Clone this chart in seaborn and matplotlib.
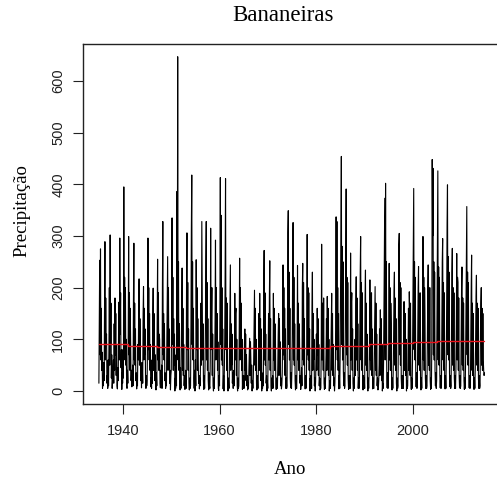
import numpy as np
import pandas as pd
import matplotlib
matplotlib.use("Agg")
import matplotlib.pyplot as plt
import seaborn as sns

# Monthly precipitation (mm), Jan..Dec, one row per year
precip_1935_1944 = [
    [15, 120, 253, 70, 275, 60, 160, 40, 75, 5, 30, 10],
    [55, 20, 160, 289, 60, 180, 90, 110, 15, 30, 5, 60],
    [10, 85, 200, 50, 302, 90, 170, 25, 70, 5, 20, 40],
    [60, 15, 130, 40, 180, 70, 150, 30, 90, 10, 4, 45],
    [20, 120, 172, 60, 296, 110, 190, 45, 80, 3, 35, 15],
    [80, 25, 395, 90, 220, 60, 200, 50, 100, 10, 5, 40],
    [15, 110, 299, 70, 190, 40, 160, 80, 20, 40, 8, 25],
    [50, 10, 180, 286, 60, 170, 50, 120, 20, 35, 4, 30],
    [10, 90, 60, 170, 217, 50, 140, 90, 20, 40, 6, 55],
    [45, 15, 150, 202, 60, 160, 70, 120, 25, 5, 30, 10],
]
precip_1945_1954 = [
    [20, 100, 296, 80, 200, 60, 150, 40, 90, 8, 25, 5],
    [60, 15, 140, 199, 40, 150, 105, 20, 70, 10, 2, 35],
    [10, 130, 255, 60, 190, 40, 110, 100, 15, 6, 40, 10],
    [50, 5, 200, 328, 70, 150, 60, 130, 20, 35, 5, 20],
    [10, 100, 180, 260, 40, 200, 60, 120, 15, 40, 2, 30],
    [40, 150, 335, 90, 220, 40, 140, 50, 110, 0, 25, 5],
    [70, 10, 386, 120, 647, 60, 250, 40, 130, 10, 2, 45],
    [5, 90, 150, 238, 40, 160, 30, 90, 10, 30, 3, 12],
    [40, 5, 200, 306, 80, 210, 40, 120, 15, 2, 25, 5],
    [10, 130, 312, 418, 90, 250, 60, 160, 25, 5, 40, 0],
]
precip_1955_1964 = [
    [60, 10, 254, 80, 200, 40, 140, 60, 15, 30, 4, 25],
    [10, 80, 170, 50, 328, 180, 60, 130, 20, 3, 30, 5],
    [50, 120, 250, 328, 60, 210, 40, 140, 20, 2, 35, 10],
    [5, 60, 315, 80, 140, 200, 30, 110, 10, 0, 25, 5],
    [45, 140, 292, 60, 200, 70, 150, 40, 95, 5, 1, 30],
    [10, 150, 413, 90, 340, 60, 200, 50, 120, 4, 30, 0],
    [40, 100, 230, 411, 80, 180, 40, 170, 20, 0, 25, 5],
    [5, 90, 180, 244, 40, 130, 50, 110, 15, 35, 5, 25],
    [40, 10, 189, 60, 150, 160, 30, 100, 10, 0, 25, 5],
    [10, 110, 257, 60, 200, 80, 170, 40, 100, 3, 30, 5],
]
precip_1965_1974 = [
    [30, 5, 90, 120, 40, 110, 20, 70, 10, 30, 2, 15],
    [5, 35, 70, 102, 30, 95, 60, 15, 50, 0, 20, 5],
    [25, 60, 130, 195, 50, 160, 40, 100, 15, 2, 30, 5],
    [5, 80, 150, 40, 189, 60, 140, 20, 120, 0, 25, 5],
    [35, 10, 200, 272, 60, 190, 50, 110, 15, 30, 0, 20],
    [5, 70, 150, 60, 180, 252, 40, 140, 10, 0, 25, 5],
    [30, 5, 189, 60, 160, 40, 130, 110, 20, 3, 25, 5],
    [5, 50, 110, 150, 30, 140, 40, 95, 10, 25, 4, 12],
    [35, 100, 244, 70, 200, 60, 160, 30, 120, 5, 25, 5],
    [10, 140, 307, 349, 90, 230, 60, 160, 25, 6, 35, 5],
]
precip_1975_1984 = [
    [40, 110, 250, 326, 60, 220, 50, 130, 20, 2, 30, 5],
    [5, 80, 243, 60, 170, 40, 130, 100, 15, 30, 3, 15],
    [45, 10, 200, 247, 60, 210, 50, 140, 25, 4, 30, 5],
    [10, 90, 303, 70, 200, 60, 190, 40, 120, 0, 25, 5],
    [30, 5, 160, 230, 40, 150, 60, 100, 10, 25, 0, 18],
    [60, 110, 40, 160, 70, 140, 30, 90, 10, 25, 2, 5],
    [5, 80, 284, 60, 170, 150, 40, 180, 15, 3, 25, 5],
    [30, 70, 140, 40, 183, 60, 160, 30, 100, 0, 20, 5],
    [5, 60, 130, 189, 40, 150, 30, 90, 10, 25, 0, 15],
    [50, 120, 337, 80, 328, 60, 200, 40, 150, 4, 30, 5],
]
precip_1985_1994 = [
    [70, 180, 315, 454, 90, 280, 60, 250, 40, 10, 35, 5],
    [10, 150, 260, 391, 70, 220, 50, 210, 25, 3, 30, 5],
    [30, 5, 267, 60, 170, 190, 40, 120, 15, 0, 25, 5],
    [40, 100, 30, 166, 221, 60, 180, 40, 130, 5, 25, 5],
    [10, 120, 230, 299, 60, 210, 40, 190, 25, 2, 30, 5],
    [25, 5, 180, 234, 50, 170, 40, 110, 15, 0, 25, 5],
    [35, 90, 215, 60, 170, 40, 190, 30, 120, 4, 25, 5],
    [5, 70, 150, 202, 40, 170, 30, 110, 10, 25, 2, 5],
    [20, 50, 120, 30, 157, 60, 140, 20, 90, 0, 15, 5],
    [55, 160, 280, 373, 60, 402, 90, 250, 30, 6, 35, 5],
]
precip_1995_2004 = [
    [10, 110, 247, 60, 200, 40, 170, 130, 20, 2, 25, 5],
    [35, 100, 190, 230, 50, 180, 40, 140, 15, 0, 25, 5],
    [10, 130, 283, 305, 70, 210, 50, 200, 25, 5, 30, 5],
    [30, 5, 140, 173, 40, 120, 150, 30, 100, 0, 20, 5],
    [10, 90, 160, 40, 192, 150, 30, 170, 20, 3, 25, 5],
    [60, 170, 299, 392, 80, 250, 60, 220, 40, 8, 35, 5],
    [10, 100, 200, 241, 50, 170, 40, 190, 20, 2, 25, 5],
    [50, 120, 299, 60, 220, 40, 200, 150, 25, 5, 30, 5],
    [10, 110, 190, 244, 50, 180, 40, 200, 20, 3, 25, 5],
    [90, 448, 300, 431, 70, 250, 60, 230, 40, 10, 35, 5],
]
precip_2005_2014 = [
    [20, 150, 270, 426, 60, 240, 50, 220, 30, 6, 30, 5],
    [10, 130, 250, 295, 60, 210, 40, 190, 25, 4, 30, 5],
    [60, 170, 324, 399, 70, 260, 60, 230, 35, 8, 30, 5],
    [10, 120, 230, 276, 50, 200, 40, 190, 25, 5, 30, 5],
    [45, 130, 266, 60, 220, 210, 40, 180, 30, 6, 30, 5],
    [10, 110, 200, 240, 50, 180, 40, 170, 20, 3, 25, 5],
    [55, 150, 260, 357, 70, 230, 50, 210, 30, 6, 30, 5],
    [10, 110, 200, 263, 40, 170, 30, 150, 20, 3, 25, 5],
    [40, 100, 183, 224, 50, 170, 40, 160, 25, 5, 30, 5],
    [10, 110, 170, 200, 50, 160, 40, 150, 60, 40, 30, 35],
]

# Smoothed trend level (mm), one value per year 1935..2014
trend_levels = (
    [90] * 6 + [88] * 6 + [86] * 6 + [83] * 24 + [84] * 6
    + [87] * 8 + [90] * 4 + [92] * 5 + [94] * 5 + [96] * 5 + [97] * 5
)

first_year = 1935
y_ticks = [0, 100, 200, 300, 400, 500, 600]
x_ticks = [1940, 1960, 1980, 2000]

decades = [precip_1935_1944, precip_1945_1954, precip_1955_1964, precip_1965_1974,
           precip_1975_1984, precip_1985_1994, precip_1995_2004, precip_2005_2014]
monthly = np.array([v for block in decades for row in block for v in row], dtype=float)
n = len(monthly)
t = first_year + np.arange(n) / 12.0
df = pd.DataFrame({"Ano": t, "Precipitacao": monthly})

years = first_year + np.arange(len(trend_levels), dtype=float)
tr_x = np.append(years, years[-1] + 11 / 12)
tr_y = np.append(np.array(trend_levels, float), trend_levels[-1])
trend = pd.DataFrame({"Ano": tr_x, "Tendencia": tr_y})

sns.set_style("white")
plt.rcParams["font.family"] = ["Liberation Sans", "DejaVu Sans"]

W, H = 497, 483
fig = plt.figure(figsize=(W / 100, H / 100), dpi=100)
left, right, top, bottom = 83.4, 499.5, 44.0, 404.4
ax = fig.add_axes([left / W, (H - bottom) / H, (right - left) / W, (bottom - top) / H])

sns.lineplot(data=df, x="Ano", y="Precipitacao", ax=ax, color="black",
             linewidth=0.8, estimator=None, sort=False)
sns.lineplot(data=trend, x="Ano", y="Tendencia", ax=ax, color="#e8141c",
             linewidth=1.0, estimator=None, sort=False, drawstyle="steps-post")

ax.set_xlim(1931.79, 2018.03)
ax.set_ylim(-26, 671.6)
ax.set_xticks(x_ticks)
ax.set_yticks(y_ticks)
ax.set_xticklabels([str(v) for v in x_ticks])
ax.set_yticklabels([str(v) for v in y_ticks], rotation=90, va="center")
ax.tick_params(axis="both", which="major", direction="out", length=7, width=0.8,
               color="#222222", labelsize=10.5, labelcolor="#222222", pad=6,
               left=True, bottom=True, right=False, top=False)
ax.tick_params(axis="x", pad=7)
for s in ax.spines.values():
    s.set_visible(True)
    s.set_color("#222222")
    s.set_linewidth(1.0)
ax.set_xlabel("")
ax.set_ylabel("")

serif = ["Liberation Serif", "DejaVu Serif"]
fig.text(283.3 / W, 1 - 15.5 / H, "Bananeiras", family=serif, fontsize=16.5,
         ha="center", va="center", color="black")
fig.text(290 / W, 1 - 470 / H, "Ano", family=serif, fontsize=13.5,
         ha="center", va="center", color="black")
fig.text(22 / W, 1 - 211 / H, "Precipitação", family=serif, fontsize=13.5,
         rotation=90, ha="center", va="center", color="black")

fig.savefig("out.png", dpi=100)
